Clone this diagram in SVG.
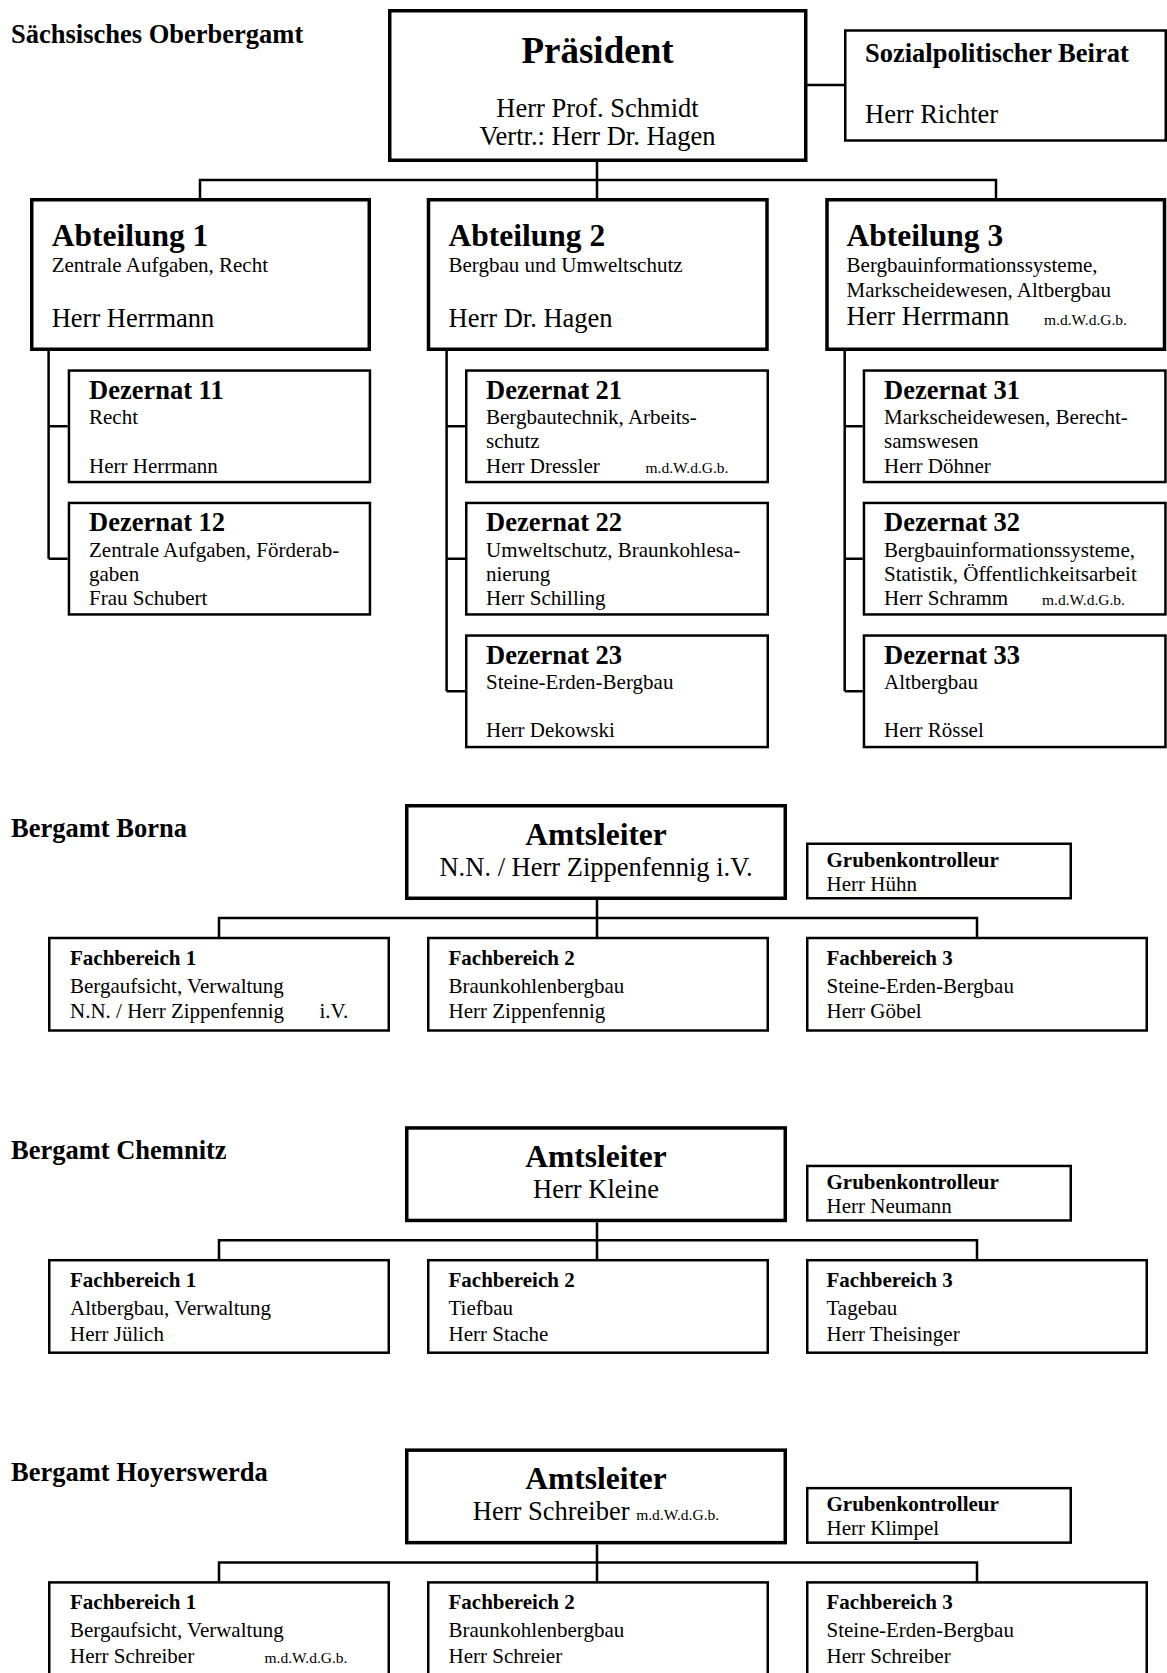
<svg xmlns="http://www.w3.org/2000/svg" width="1167" height="1673" viewBox="0 0 1167 1673">
<style>
text{font-family:"Liberation Serif","Times New Roman",serif;fill:#000}
.b{font-weight:bold}
.big{stroke:#000;stroke-width:3.5;fill:#fff}
.box{stroke:#000;stroke-width:2.5;fill:#fff}
.ln{stroke:#000;stroke-width:2.5;fill:none}
.t37{font-size:37px}
.t31{font-size:31.5px}
.t26{font-size:26.5px}
.t21{font-size:21px}
.t15{font-size:15.5px}
.mid{text-anchor:middle}
</style>
<rect width="1167" height="1673" fill="#fff"/>
<g id="connectors">
<path class="ln" d="M806 85H844"/>
<path class="ln" d="M597 162V198M200 198V180H996V198"/>
<path class="ln" d="M48.6 351V558.7M48.6 426.3H67.7M48.6 558.7H67.7"/>
<path class="ln" d="M446.6 351V691.3M446.6 426.3H465M446.6 558.7H465M446.6 691.3H465"/>
<path class="ln" d="M844.7 351V691.3M844.7 426.3H862.7M844.7 558.7H862.7M844.7 691.3H862.7"/>
<path class="ln" d="M597 900V937M219 937V918H977V937"/>
<path class="ln" d="M597 1222.2V1259.2M219 1259.2V1240.2H977V1259.2"/>
<path class="ln" d="M597 1544.4V1581.4M219 1581.4V1562.4H977V1581.4"/>
</g>
<text id="title-oba" class="b t26" x="11" y="42.5">Sächsisches Oberbergamt</text>
<g id="praesident">
<rect class="big" x="389.75" y="10.75" width="416" height="149.5"/>
<text class="b t37 mid" x="597.5" y="62.7">Präsident</text>
<text class="t26 mid" x="597.5" y="116.7">Herr Prof. Schmidt</text>
<text class="t26 mid" x="597.5" y="145">Vertr.: Herr Dr. Hagen</text>
</g>
<g id="beirat">
<rect class="box" x="845.25" y="30.5" width="320.5" height="110"/>
<text class="b t26" x="865" y="61.7">Sozialpolitischer Beirat</text>
<text class="t26" x="865" y="123.3">Herr Richter</text>
</g>
<g id="abt1">
<rect class="big" x="31.75" y="199.75" width="337.5" height="149.5"/>
<text class="b t31" x="51.7" y="245.7">Abteilung 1</text>
<text class="t21" x="51.7" y="271.7">Zentrale Aufgaben, Recht</text>
<text class="t26" x="51.7" y="326.5">Herr Herrmann</text>
</g>
<g id="abt2">
<rect class="big" x="428.5" y="199.75" width="338.5" height="149.5"/>
<text class="b t31" x="448.5" y="245.7">Abteilung 2</text>
<text class="t21" x="448.5" y="271.7">Bergbau und Umweltschutz</text>
<text class="t26" x="448.5" y="326.5">Herr Dr. Hagen</text>
</g>
<g id="abt3">
<rect class="big" x="827" y="199.75" width="337.5" height="149.5"/>
<text class="b t31" x="846.6" y="245.7">Abteilung 3</text>
<text class="t21" x="846.6" y="271.7">Bergbauinformationssysteme,</text>
<text class="t21" x="846.6" y="296.7">Markscheidewesen, Altbergbau</text>
<text class="t26" x="846.6" y="325">Herr Herrmann</text>
<text class="t15" x="1044" y="325">m.d.W.d.G.b.</text>
</g>
<g id="dez11">
<rect class="box" x="68.95" y="370.55" width="301" height="111.5"/>
<text class="b t26" x="89" y="398.8">Dezernat 11</text>
<text class="t21" x="89" y="424.3">Recht</text>
<text class="t21" x="89" y="473.3">Herr Herrmann</text>
</g>
<g id="dez12">
<rect class="box" x="68.95" y="502.95" width="301" height="111.5"/>
<text class="b t26" x="89" y="531.2">Dezernat 12</text>
<text class="t21" x="89" y="556.7">Zentrale Aufgaben, Förderab-</text>
<text class="t21" x="89" y="580.7">gaben</text>
<text class="t21" x="89" y="605.2">Frau Schubert</text>
</g>
<g id="dez21">
<rect class="box" x="466.25" y="370.55" width="301.5" height="111.5"/>
<text class="b t26" x="486" y="398.8">Dezernat 21</text>
<text class="t21" x="486" y="424.3">Bergbautechnik, Arbeits-</text>
<text class="t21" x="486" y="448.3">schutz</text>
<text class="t21" x="486" y="473.3">Herr Dressler</text>
<text class="t15" x="645.5" y="473.3">m.d.W.d.G.b.</text>
</g>
<g id="dez22">
<rect class="box" x="466.25" y="502.95" width="301.5" height="111.5"/>
<text class="b t26" x="486" y="531.2">Dezernat 22</text>
<text class="t21" x="486" y="556.7">Umweltschutz, Braunkohlesa-</text>
<text class="t21" x="486" y="580.7">nierung</text>
<text class="t21" x="486" y="605.2">Herr Schilling</text>
</g>
<g id="dez23">
<rect class="box" x="466.25" y="635.55" width="301.5" height="111.5"/>
<text class="b t26" x="486" y="663.8">Dezernat 23</text>
<text class="t21" x="486" y="689.3">Steine-Erden-Bergbau</text>
<text class="t21" x="486" y="737.3">Herr Dekowski</text>
</g>
<g id="dez31">
<rect class="box" x="863.95" y="370.55" width="301.5" height="111.5"/>
<text class="b t26" x="884" y="398.8">Dezernat 31</text>
<text class="t21" x="884" y="424.3">Markscheidewesen, Berecht-</text>
<text class="t21" x="884" y="448.3">samswesen</text>
<text class="t21" x="884" y="473.3">Herr Döhner</text>
</g>
<g id="dez32">
<rect class="box" x="863.95" y="502.95" width="301.5" height="111.5"/>
<text class="b t26" x="884" y="531.2">Dezernat 32</text>
<text class="t21" x="884" y="556.7">Bergbauinformationssysteme,</text>
<text class="t21" x="884" y="580.7">Statistik, Öffentlichkeitsarbeit</text>
<text class="t21" x="884" y="605.2">Herr Schramm</text>
<text class="t15" x="1042" y="605.2">m.d.W.d.G.b.</text>
</g>
<g id="dez33">
<rect class="box" x="863.95" y="635.55" width="301.5" height="111.5"/>
<text class="b t26" x="884" y="663.8">Dezernat 33</text>
<text class="t21" x="884" y="689.3">Altbergbau</text>
<text class="t21" x="884" y="737.3">Herr Rössel</text>
</g>

<text id="title-borna" class="b t26" x="11" y="836.7">Bergamt Borna</text>
<g id="borna-amtsleiter">
<rect class="big" x="406.75" y="805.75" width="378.5" height="92.5"/>
<text class="b t31 mid" x="596" y="845">Amtsleiter</text>
<text class="t26 mid" x="596" y="875.5">N.N. / Herr Zippenfennig i.V.</text>
</g>
<g id="borna-gruben">
<rect class="box" x="807.25" y="843.75" width="263.5" height="54.5"/>
<text class="b t21" x="826.5" y="866.7">Grubenkontrolleur</text>
<text class="t21" x="826.5" y="890.7">Herr Hühn</text>
</g>
<g id="borna-fb1">
<rect class="box" x="49.25" y="938" width="339.5" height="92.5"/>
<text class="b t21" x="70" y="965">Fachbereich 1</text>
<text class="t21" x="70" y="992.7">Bergaufsicht, Verwaltung</text>
<text class="t21" x="70" y="1018.3">N.N. / Herr Zippenfennig</text>
<text class="t21" x="319.5" y="1018.3">i.V.</text>
</g>
<g id="borna-fb2">
<rect class="box" x="428.25" y="938" width="339.5" height="92.5"/>
<text class="b t21" x="448.5" y="965">Fachbereich 2</text>
<text class="t21" x="448.5" y="992.7">Braunkohlenbergbau</text>
<text class="t21" x="448.5" y="1018.3">Herr Zippenfennig</text>
</g>
<g id="borna-fb3">
<rect class="box" x="807.25" y="938" width="339.5" height="92.5"/>
<text class="b t21" x="826.5" y="965">Fachbereich 3</text>
<text class="t21" x="826.5" y="992.7">Steine-Erden-Bergbau</text>
<text class="t21" x="826.5" y="1018.3">Herr Göbel</text>
</g>

<text id="title-chemnitz" class="b t26" x="11" y="1158.9">Bergamt Chemnitz</text>
<g id="chemnitz-amtsleiter">
<rect class="big" x="406.75" y="1127.95" width="378.5" height="92.5"/>
<text class="b t31 mid" x="596" y="1167.2">Amtsleiter</text>
<text class="t26 mid" x="596" y="1197.7">Herr Kleine</text>
</g>
<g id="chemnitz-gruben">
<rect class="box" x="807.25" y="1165.95" width="263.5" height="54.5"/>
<text class="b t21" x="826.5" y="1188.9">Grubenkontrolleur</text>
<text class="t21" x="826.5" y="1212.9">Herr Neumann</text>
</g>
<g id="chemnitz-fb1">
<rect class="box" x="49.25" y="1260.2" width="339.5" height="92.5"/>
<text class="b t21" x="70" y="1287.2">Fachbereich 1</text>
<text class="t21" x="70" y="1314.9">Altbergbau, Verwaltung</text>
<text class="t21" x="70" y="1340.5">Herr Jülich</text>
</g>
<g id="chemnitz-fb2">
<rect class="box" x="428.25" y="1260.2" width="339.5" height="92.5"/>
<text class="b t21" x="448.5" y="1287.2">Fachbereich 2</text>
<text class="t21" x="448.5" y="1314.9">Tiefbau</text>
<text class="t21" x="448.5" y="1340.5">Herr Stache</text>
</g>
<g id="chemnitz-fb3">
<rect class="box" x="807.25" y="1260.2" width="339.5" height="92.5"/>
<text class="b t21" x="826.5" y="1287.2">Fachbereich 3</text>
<text class="t21" x="826.5" y="1314.9">Tagebau</text>
<text class="t21" x="826.5" y="1340.5">Herr Theisinger</text>
</g>

<text id="title-hoyerswerda" class="b t26" x="11" y="1481.1">Bergamt Hoyerswerda</text>
<g id="hoy-amtsleiter">
<rect class="big" x="406.75" y="1450.15" width="378.5" height="92.5"/>
<text class="b t31 mid" x="596" y="1489.4">Amtsleiter</text>
<text class="t26 mid" x="596" y="1519.9">Herr Schreiber <tspan class="t15">m.d.W.d.G.b.</tspan></text>
</g>
<g id="hoy-gruben">
<rect class="box" x="807.25" y="1488.15" width="263.5" height="54.5"/>
<text class="b t21" x="826.5" y="1511.1">Grubenkontrolleur</text>
<text class="t21" x="826.5" y="1535.1">Herr Klimpel</text>
</g>
<g id="hoy-fb1">
<rect class="box" x="49.25" y="1582.4" width="339.5" height="92.5"/>
<text class="b t21" x="70" y="1609.4">Fachbereich 1</text>
<text class="t21" x="70" y="1637.1">Bergaufsicht, Verwaltung</text>
<text class="t21" x="70" y="1662.7">Herr Schreiber</text>
<text class="t15" x="264.5" y="1662.7">m.d.W.d.G.b.</text>
</g>
<g id="hoy-fb2">
<rect class="box" x="428.25" y="1582.4" width="339.5" height="92.5"/>
<text class="b t21" x="448.5" y="1609.4">Fachbereich 2</text>
<text class="t21" x="448.5" y="1637.1">Braunkohlenbergbau</text>
<text class="t21" x="448.5" y="1662.7">Herr Schreier</text>
</g>
<g id="hoy-fb3">
<rect class="box" x="807.25" y="1582.4" width="339.5" height="92.5"/>
<text class="b t21" x="826.5" y="1609.4">Fachbereich 3</text>
<text class="t21" x="826.5" y="1637.1">Steine-Erden-Bergbau</text>
<text class="t21" x="826.5" y="1662.7">Herr Schreiber</text>
</g>
</svg>
